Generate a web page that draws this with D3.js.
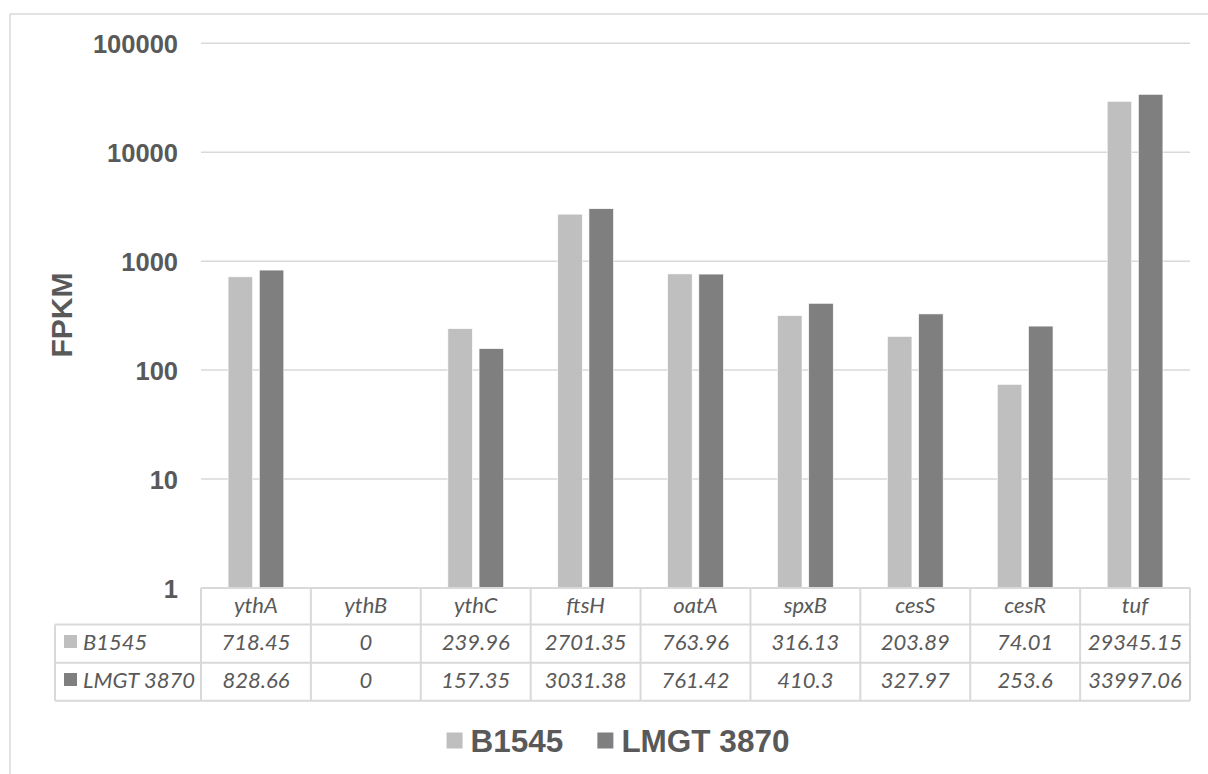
<!DOCTYPE html>
<html>
<head>
<meta charset="utf-8">
<script src="https://cdn.jsdelivr.net/npm/d3@7"></script>
<style>
  html, body { margin: 0; padding: 0; background: #fff; }
  svg { display: block; }
</style>
</head>
<body>
<svg id="chart" width="1208" height="774"></svg>
<script>
// Gene expression (FPKM) per gene for two strains
const genes = ["ythA", "ythB", "ythC", "ftsH", "oatA", "spxB", "cesS", "cesR", "tuf"];
const seriesNames = ["B1545", "LMGT 3870"];
const b1545 = [718.45, 0, 239.96, 2701.35, 763.96, 316.13, 203.89, 74.01, 29345.15];
const lmgt3870 = [828.66, 0, 157.35, 3031.38, 761.42, 410.3, 327.97, 253.6, 33997.06];
const yTicks = [1, 10, 100, 1000, 10000, 100000];
const yTitle = "FPKM";

const seriesValues = [b1545, lmgt3870];
const colors = ["#bfbfbf", "#7f7f7f"];
const textColor = "#595959";
const lineColor = "#d9d9d9";

const svg = d3.select("#chart");

// Outer chart frame
svg.append("rect")
  .attr("x", 10).attr("y", 14)
  .attr("width", 1240).attr("height", 800)
  .attr("fill", "#fff")
  .attr("stroke", lineColor).attr("stroke-width", 1.5);

const plot = { left: 201, right: 1190, top: 43.3, bottom: 588 };

const x = d3.scaleBand()
  .domain(genes)
  .range([plot.left, plot.right])
  .padding(0);

const y = d3.scaleLog()
  .domain([1, 100000])
  .range([plot.bottom, plot.top]);

// Horizontal gridlines
svg.append("g")
  .selectAll("line")
  .data(yTicks.filter(t => t > 1))
  .join("line")
  .attr("x1", plot.left).attr("x2", plot.right)
  .attr("y1", d => y(d)).attr("y2", d => y(d))
  .attr("stroke", lineColor).attr("stroke-width", 1.5);

// Y axis labels
const yAxis = d3.axisLeft(y).tickValues(yTicks).tickFormat(d3.format("d")).tickSize(0).tickPadding(0);
const yg = svg.append("g").attr("transform", "translate(178,0)").call(yAxis);
yg.select(".domain").remove();
yg.selectAll("text")
  .attr("fill", textColor)
  .attr("font-family", "'Liberation Sans', Arial, sans-serif")
  .attr("font-weight", "bold")
  .attr("font-size", 25.5)
  .attr("dy", "0.36em");

// Y axis title
svg.append("text")
  .attr("transform", "translate(72,315) rotate(-90)")
  .attr("text-anchor", "middle")
  .attr("fill", textColor)
  .attr("font-family", "'Liberation Sans', Arial, sans-serif")
  .attr("font-weight", "bold")
  .attr("font-size", 30)
  .text(yTitle);

// Bars
const barW = 24.5, barGap = 6.7;
const offsets = [-(barGap / 2 + barW), barGap / 2];
seriesValues.forEach((vals, si) => {
  svg.append("g")
    .selectAll("rect")
    .data(genes.map((g, i) => ({ g, v: vals[i] })).filter(d => d.v > 0))
    .join("rect")
    .attr("x", d => x(d.g) + x.bandwidth() / 2 + offsets[si])
    .attr("y", d => y(d.v))
    .attr("width", barW)
    .attr("height", d => y(1) - y(d.v))
    .attr("fill", colors[si])
    .attr("stroke", "#fff").attr("stroke-width", 0.6);
});

// Data table below the plot
const rowTop = [588, 624.5, 662.7];
const rowBottom = 700.7;
const labelLeft = 55;
const tableFont = "Lato, 'Open Sans', sans-serif";
const tg = svg.append("g");

// horizontal table lines
tg.append("line").attr("x1", plot.left).attr("x2", plot.right)
  .attr("y1", rowTop[0]).attr("y2", rowTop[0]);
[rowTop[1], rowTop[2], rowBottom].forEach(yy => {
  tg.append("line").attr("x1", labelLeft).attr("x2", plot.right)
    .attr("y1", yy).attr("y2", yy);
});
// vertical table lines
tg.append("line").attr("x1", labelLeft).attr("x2", labelLeft)
  .attr("y1", rowTop[1]).attr("y2", rowBottom);
genes.forEach(g => {
  tg.append("line").attr("x1", x(g)).attr("x2", x(g))
    .attr("y1", rowTop[0]).attr("y2", rowBottom);
});
tg.append("line").attr("x1", plot.right).attr("x2", plot.right)
  .attr("y1", rowTop[0]).attr("y2", rowBottom);
tg.selectAll("line").attr("stroke", lineColor).attr("stroke-width", 2);

// header row: gene names
tg.selectAll("text.gene")
  .data(genes)
  .join("text")
  .attr("class", "gene")
  .attr("x", d => x(d) + x.bandwidth() / 2)
  .attr("y", 612.5)
  .text(d => d);

// value rows
const rowBaselines = [650, 688];
seriesValues.forEach((vals, si) => {
  tg.selectAll("text.v" + si)
    .data(vals)
    .join("text")
    .attr("class", "v" + si)
    .attr("x", (d, i) => x(genes[i]) + x.bandwidth() / 2)
    .attr("y", rowBaselines[si])
    .text(d => String(d));

  tg.append("rect")
    .attr("x", 64).attr("y", rowBaselines[si] - 15)
    .attr("width", 13).attr("height", 13)
    .attr("fill", colors[si]);
  tg.append("text")
    .attr("class", "rowlabel")
    .attr("x", 83).attr("y", rowBaselines[si])
    .attr("text-anchor", "start")
    .text(seriesNames[si]);
});
tg.selectAll("text")
  .attr("fill", textColor)
  .attr("font-family", tableFont)
  .attr("font-style", "italic")
  .attr("font-size", 22);
tg.selectAll("text:not(.rowlabel)").attr("text-anchor", "middle");

// Legend
const lg = svg.append("g")
  .attr("font-family", "'Liberation Sans', Arial, sans-serif")
  .attr("font-weight", "bold")
  .attr("font-size", 31.5)
  .attr("fill", textColor);
const legBaseline = 751.5;
const items = [];
let cursor = 0;
seriesNames.forEach((name, i) => {
  const g = lg.append("g");
  g.append("rect").attr("x", 0).attr("y", -19).attr("width", 16).attr("height", 16).attr("fill", colors[i]);
  const t = g.append("text").attr("x", 24).attr("y", 0).text(name);
  const w = 24 + t.node().getComputedTextLength();
  items.push({ g, w });
});
const legGap = 34;
const totalW = items.reduce((s, it) => s + it.w, 0) + legGap * (items.length - 1);
cursor = 618 - totalW / 2;
items.forEach(it => {
  it.g.attr("transform", `translate(${cursor},${legBaseline})`);
  cursor += it.w + legGap;
});
</script>
</body>
</html>
